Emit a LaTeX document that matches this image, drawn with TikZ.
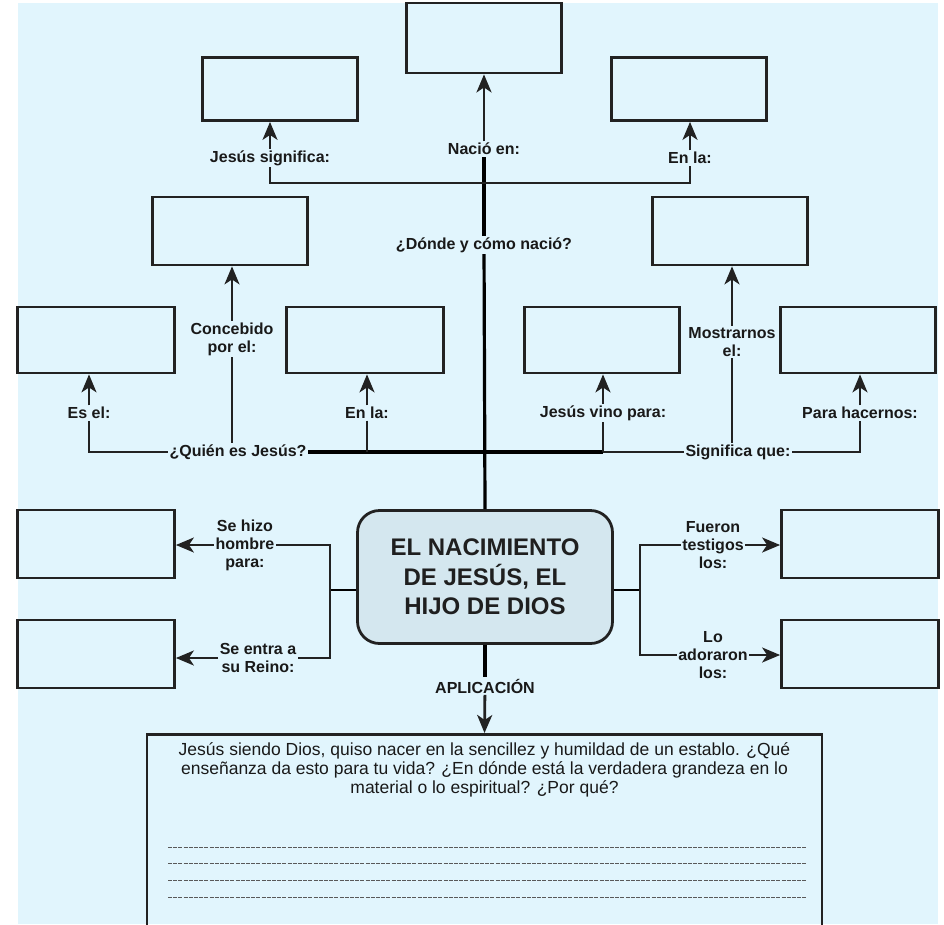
\documentclass[tikz,border=0pt]{standalone}
\usepackage{fontspec}
\setmainfont{Liberation Sans}
\usetikzlibrary{arrows.meta}
\usetikzlibrary{positioning}

\definecolor{fondo}{HTML}{E1F5FD}
\definecolor{borde}{HTML}{222222}
\definecolor{relleno}{HTML}{D4E7EF}

\begin{document}
\begin{tikzpicture}[x=1pt,y=-1pt,
    caja/.style={draw=borde,line width=2.8pt,minimum width=155pt,minimum height=66pt,inner sep=0pt},
    etiqueta/.style={font=\bfseries\fontsize{16}{18}\selectfont,align=center,inner sep=1.5pt,text=black!90},
    linea/.style={line width=2.2pt,draw=borde},
    gruesa/.style={line width=3.8pt,draw=black},
    tronco/.style={line width=3.2pt,draw=black},
    flecha/.style={linea,-{Stealth[length=18pt,width=15pt,inset=5pt]}},
    punteada/.style={line width=0.8pt,draw=black!65,dash pattern=on 4pt off 1.2pt}
  ]
    \useasboundingbox (0,0) rectangle (944,924);
    \clip (0,0) rectangle (944,924);
    \fill[fondo] (18,3) rectangle (938,924);

    % Cajas vacias
    \node[caja,minimum height=70pt] (arriba) at (484,38) {};
    \node[caja,minimum height=63pt] (cajaSig) at (280,89) {};
    \node[caja,minimum height=63pt] (cajaLa) at (689,89) {};
    \node[caja,minimum height=68pt] (cajaConc) at (230,231) {};
    \node[caja,minimum height=68pt] (cajaMos) at (730,231) {};
    \node[caja,minimum width=157pt] (cajaEs) at (96,340) {};
    \node[caja,minimum width=157pt] (cajaEnla) at (365,340) {};
    \node[caja] (cajaVino) at (602,340) {};
    \node[caja] (cajaHac) at (858,340) {};
    \node[caja,minimum width=157pt,minimum height=68pt] (cajaHizo) at (96,544) {};
    \node[caja,minimum width=157pt,minimum height=68pt] (cajaEntra) at (96,654) {};
    \node[caja,minimum width=157pt,minimum height=68pt] (cajaFue) at (860,544) {};
    \node[caja,minimum width=157pt,minimum height=68pt] (cajaAdo) at (860,654) {};

    % Nodo central
    \node[draw=borde,line width=2.8pt,fill=relleno,rounded corners=22pt,
          minimum width=255pt,minimum height=133pt,align=center,text=black!88,
          font=\bfseries\fontsize{24}{29.5}\selectfont] (centro) at (485,577)
          {EL NACIMIENTO\\DE JESÚS, EL\\HIJO DE DIOS};

    % Etiquetas
    \node[etiqueta] (jesig) at (270,158) {Jesús significa:};
    \node[etiqueta] (nacio) at (484,149) {Nació en:};
    \node[etiqueta] (enlaA) at (690,158) {En la:};
    \node[etiqueta] (donde) at (484,245) {¿Dónde y cómo nació?};
    \node[etiqueta] (conceb) at (232,339) {Concebido\\por el:};
    \node[etiqueta] (esel) at (89,413) {Es el:};
    \node[etiqueta] (enlaB) at (367,413) {En la:};
    \node[etiqueta] (quien) at (238,452) {¿Quién es Jesús?};
    \node[etiqueta] (signif) at (738,452) {Significa que:};
    \node[etiqueta] (vino) at (603,413) {Jesús vino para:};
    \node[etiqueta] (mostr) at (732,342) {Mostrarnos\\el:};
    \node[etiqueta] (parah) at (860,413) {Para hacernos:};
    \node[etiqueta] (hizo) at (245,545) {Se hizo\\hombre\\para:};
    \node[etiqueta] (entra) at (258,658) {Se entra a\\su Reino:};
    \node[etiqueta] (fueron) at (713,545) {Fueron\\testigos\\los:};
    \node[etiqueta] (lo) at (713,655) {Lo\\adoraron\\los:};
    \node[etiqueta] (aplic) at (485,686) {APLICACIÓN};

    % Caja de aplicacion
    \node[draw=borde,line width=2.8pt,minimum width=675pt,minimum height=210pt,anchor=north] (reflexion) at (484.5,733) {};
    \node[anchor=north,align=center,text=black!90,font=\fontsize{17.5}{19}\selectfont] (pregunta) at (484.5,739)
      {Jesús siendo Dios, quiso nacer en la sencillez y humildad de un establo. ¿Qué\\
       enseñanza da esto para tu vida? ¿En dónde está la verdadera grandeza en lo\\
       material o lo espiritual? ¿Por qué?};
    \foreach \y in {847,863,880,897}
      \draw[punteada] (168,\y) -- (806,\y);

    % Tronco
    \draw[tronco] (centro.north) -- (donde);
    \draw[tronco] (donde) -- (nacio);
    \draw[flecha,line width=2.8pt] (nacio.north) -- (arriba.south);

    % Ramal superior
    \coordinate (cruceA) at (484,183);
    \draw[linea] (jesig) |- (cruceA) -| (enlaA);
    \draw[flecha] (jesig.north) -- (jesig.north |- cajaSig.south);
    \draw[flecha] (enlaA.north) -- (enlaA.north |- cajaLa.south);

    % Fila media
    \draw[gruesa] (quien) -- (vino.south |- signif);
    \draw[linea] (vino.south |- signif) -- (signif);
    \draw[linea] (quien) -| (esel);
    \draw[flecha] (esel.north) -- (esel.north |- cajaEs.south);
    \draw[linea] (conceb.south) -- (conceb.south |- quien.north);
    \draw[flecha] (conceb.north) -- (conceb.north |- cajaConc.south);
    \draw[linea] (enlaB.south) -- (enlaB.south |- quien);
    \draw[flecha] (enlaB.north) -- (enlaB.north |- cajaEnla.south);
    \draw[linea] (vino.south) -- (vino.south |- signif);
    \draw[flecha] (vino.north) -- (vino.north |- cajaVino.south);
    \draw[linea] (mostr.south) -- (mostr.south |- signif.north);
    \draw[flecha] (mostr.north) -- (mostr.north |- cajaMos.south);
    \draw[linea] (signif) -| (parah);
    \draw[flecha] (parah.north) -- (parah.north |- cajaHac.south);

    % Ramal izquierdo
    \coordinate (nudoI) at (330,590);
    \draw[gruesa,line width=2.8pt] (centro.west |- nudoI) -- (nudoI);
    \draw[linea] (hizo) -| (nudoI) |- (entra);
    \draw[flecha] (hizo) -- (hizo -| cajaHizo.east);
    \draw[flecha] (entra) -- (entra -| cajaEntra.east);

    % Ramal derecho
    \coordinate (nudoD) at (640,590);
    \draw[gruesa,line width=2.8pt] (centro.east |- nudoD) -- (nudoD);
    \draw[linea] (fueron) -| (nudoD) |- (lo);
    \draw[flecha] (fueron) -- (fueron -| cajaFue.west);
    \draw[flecha] (lo) -- (lo -| cajaAdo.west);

    % Aplicacion
    \draw[tronco] (centro.south) -- (aplic);
    \draw[flecha,line width=2.8pt] (aplic) -- (reflexion.north);
\end{tikzpicture}
\end{document}
